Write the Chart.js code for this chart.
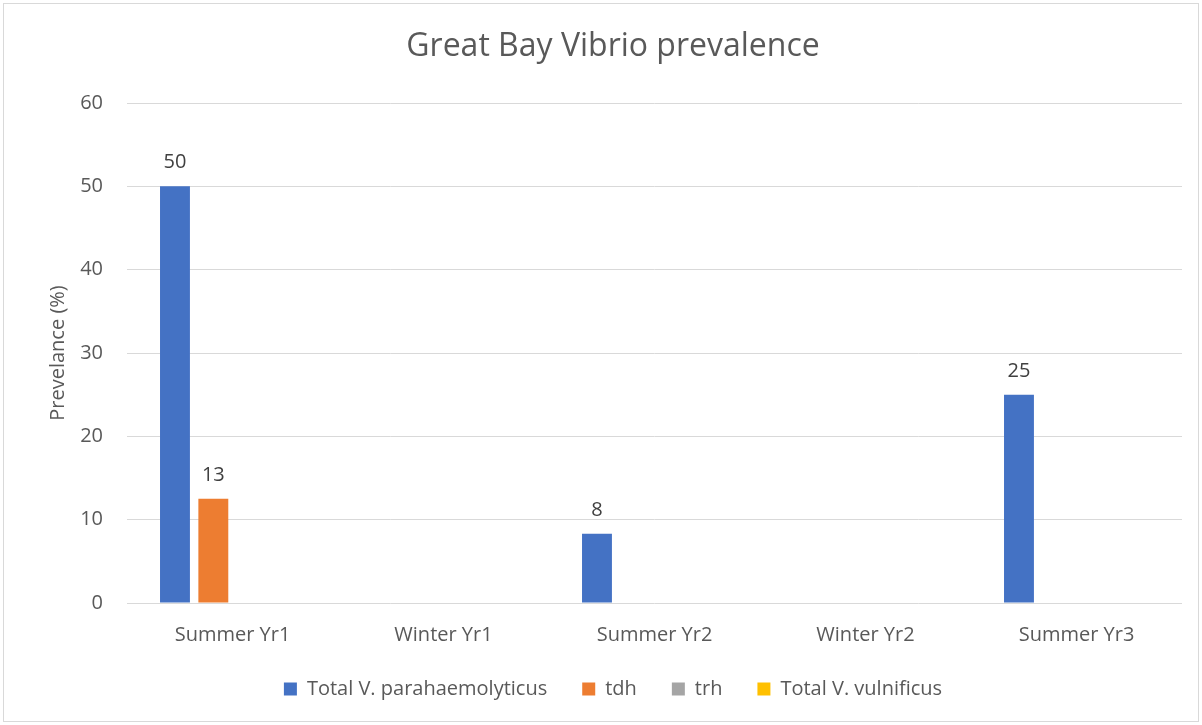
<!DOCTYPE html>
<html>
<head>
<meta charset="utf-8">
<script src="https://cdn.jsdelivr.net/npm/chart.js@4/dist/chart.umd.min.js"></script>
<style>
  html, body { margin: 0; padding: 0; background: #fff; }
  #wrap { width: 1202px; height: 725px; position: relative; }
</style>
</head>
<body>
<div id="wrap"><canvas id="chart"></canvas></div>
<script>
// data
const categories = ["Summer Yr1", "Winter Yr1", "Summer Yr2", "Winter Yr2", "Summer Yr3"];
const totalVp = [50, 0, 8.3, 0, 25];
const tdh = [12.5, 0, 0, 0, 0];
const trh = [0, 0, 0, 0, 0];
const totalVv = [0, 0, 0, 0, 0];
const yTicks = [0, 10, 20, 30, 40, 50, 60];

const FONT = "'Open Sans', sans-serif";
const TEXT = "#595959";

// labels above bars, zero values left out
var barLabels = {
    id: "barLabels",
    afterDatasetsDraw: function (chart) {
        var ctx = chart.ctx;
        ctx.save();
        ctx.font = "20px " + FONT;
        ctx.fillStyle = "#404040";
        ctx.textAlign = "center";
        ctx.textBaseline = "alphabetic";
        chart.data.datasets.forEach(function (ds, i) {
            var meta = chart.getDatasetMeta(i);
            meta.data.forEach(function (bar, j) {
                var v = ds.data[j];
                if (!v) return;
                ctx.fillText(String(Math.round(v)), bar.x, bar.y - 18);
            });
        });
        ctx.restore();
    }
};

// thin grey frame round the whole chart
var frame = {
    id: "frame",
    beforeDraw: function (chart) {
        var ctx = chart.ctx;
        ctx.save();
        ctx.fillStyle = "#fff";
        ctx.fillRect(0, 0, chart.width, chart.height);
        ctx.strokeStyle = "#d9d9d9";
        ctx.lineWidth = 1;
        ctx.strokeRect(3.5, 3.5, chart.width - 7, chart.height - 7);
        ctx.restore();
    }
};

function series(label, data, color) {
    return {
        label: label,
        data: data,
        backgroundColor: color,
        borderWidth: 0,
        categoryPercentage: 0.727,
        barPercentage: 0.78
    };
}

new Chart(document.getElementById("chart"), {
    type: "bar",
    data: {
        labels: categories,
        datasets: [
            series("Total V. parahaemolyticus", totalVp, "#4472c4"),
            series("tdh", tdh, "#ed7d31"),
            series("trh", trh, "#a5a5a5"),
            series("Total V. vulnificus", totalVv, "#ffc000")
        ]
    },
    options: {
        responsive: true,
        maintainAspectRatio: false,
        animation: false,
        layout: { padding: { left: 44, right: 20, top: 20, bottom: 16 } },
        plugins: {
            title: {
                display: true,
                text: "Great Bay Vibrio prevalence",
                color: TEXT,
                font: { family: FONT, size: 32, weight: "normal" },
                padding: { top: 8, bottom: 36.6 }
            },
            legend: {
                position: "bottom",
                labels: {
                    color: TEXT,
                    font: { family: FONT, size: 20 },
                    boxWidth: 13,
                    boxHeight: 13,
                    padding: 35
                }
            },
            tooltip: { enabled: false }
        },
        scales: {
            x: {
                grid: { display: false },
                border: { display: false },
                ticks: { color: TEXT, font: { family: FONT, size: 20 }, padding: 12 },
                afterFit: function (scale) { scale.height = 41; }
            },
            y: {
                min: 0,
                max: 60,
                afterBuildTicks: function (scale) {
                    scale.ticks = yTicks.map(function (v) { return { value: v }; });
                },
                grid: { color: "#d9d9d9", lineWidth: 1, drawTicks: false },
                border: { display: false },
                ticks: { color: TEXT, font: { family: FONT, size: 20 }, padding: 24 },
                title: {
                    display: true,
                    text: "Prevelance (%)",
                    color: TEXT,
                    font: { family: FONT, size: 20 },
                    padding: { top: 2, bottom: 0 }
                },
                afterFit: function (scale) { scale.width = 83; }
            }
        }
    },
    plugins: [frame, barLabels]
});
</script>
</body>
</html>
